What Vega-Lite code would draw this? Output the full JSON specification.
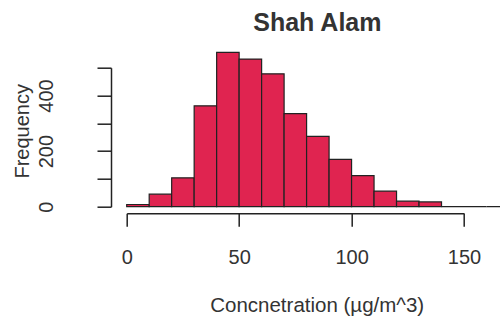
{
  "$schema": "https://vega.github.io/schema/vega-lite/v6.json",
  "autosize": "none",
  "width": 337.3,
  "height": 139,
  "padding": {"left": 126.7, "top": 67.7, "right": 36, "bottom": 113.3},
  "background": "white",
  "title": {
    "text": "Shah Alam",
    "fontSize": 25,
    "fontWeight": "bold",
    "font": "Liberation Sans",
    "color": "#333",
    "anchor": "middle",
    "frame": "group",
    "baseline": "alphabetic",
    "offset": -4,
    "dx": 22
  },
  "data": {
    "values": [
      {"start": 0, "end": 10, "count": 8},
      {"start": 10, "end": 20, "count": 45},
      {"start": 20, "end": 30, "count": 104},
      {"start": 30, "end": 40, "count": 363},
      {"start": 40, "end": 50, "count": 555},
      {"start": 50, "end": 60, "count": 531},
      {"start": 60, "end": 70, "count": 478},
      {"start": 70, "end": 80, "count": 335},
      {"start": 80, "end": 90, "count": 253},
      {"start": 90, "end": 100, "count": 170},
      {"start": 100, "end": 110, "count": 112},
      {"start": 110, "end": 120, "count": 56},
      {"start": 120, "end": 130, "count": 20},
      {"start": 130, "end": 140, "count": 17},
      {"start": 140, "end": 150, "count": 0},
      {"start": 150, "end": 160, "count": 0},
      {"start": 160, "end": 170, "count": 0},
      {"start": 170, "end": 180, "count": 0}
    ]
  },
  "mark": {"type": "rect", "fill": "#E02450", "stroke": "#222", "strokeWidth": 1.2},
  "encoding": {
    "x": {
      "field": "start",
      "type": "quantitative",
      "scale": {"domain": [0, 150], "nice": false, "zero": false},
      "axis": {
        "values": [0, 50, 100, 150],
        "offset": 6.6,
        "grid": false,
        "tickSize": 13,
        "tickWidth": 1.5,
        "tickColor": "#222",
        "domainColor": "#222",
        "domainWidth": 1.5,
        "labelFont": "Liberation Sans",
        "labelFontSize": 20,
        "labelColor": "#333",
        "labelBaseline": "alphabetic",
        "labelPadding": 36.7,
        "labelFlush": false,
        "labelOverlap": false,
        "title": "Concnetration (µg/m^3)",
        "titleFont": "Liberation Sans",
        "titleFontSize": 20.5,
        "titleFontWeight": "normal",
        "titleColor": "#333",
        "titleBaseline": "alphabetic",
        "titleAnchor": "start",
        "titleAlign": "center",
        "titleX": 190,
        "titleY": 98
      }
    },
    "x2": {"field": "end"},
    "y": {
      "field": "count",
      "type": "quantitative",
      "scale": {"domain": [0, 500], "nice": false},
      "axis": {
        "values": [0, 100, 200, 300, 400, 500],
        "labelExpr": "datum.value % 200 == 0 ? datum.label : ''",
        "offset": 15.7,
        "grid": false,
        "tickSize": 14,
        "tickWidth": 1.5,
        "tickColor": "#222",
        "domainColor": "#222",
        "domainWidth": 1.5,
        "labelFont": "Liberation Sans",
        "labelFontSize": 20,
        "labelColor": "#333",
        "labelAngle": -90,
        "labelAlign": "center",
        "labelBaseline": "middle",
        "labelPadding": 50.7,
        "labelOverlap": false,
        "labelFlush": false,
        "title": "Frequency",
        "titleFont": "Liberation Sans",
        "titleFontSize": 20,
        "titleFontWeight": "normal",
        "titleColor": "#333",
        "titleAngle": -90,
        "titleBaseline": "alphabetic",
        "titleAlign": "center",
        "titleX": -82.5,
        "titleY": 63.1
      }
    }
  },
  "config": {"view": {"stroke": null}}
}
